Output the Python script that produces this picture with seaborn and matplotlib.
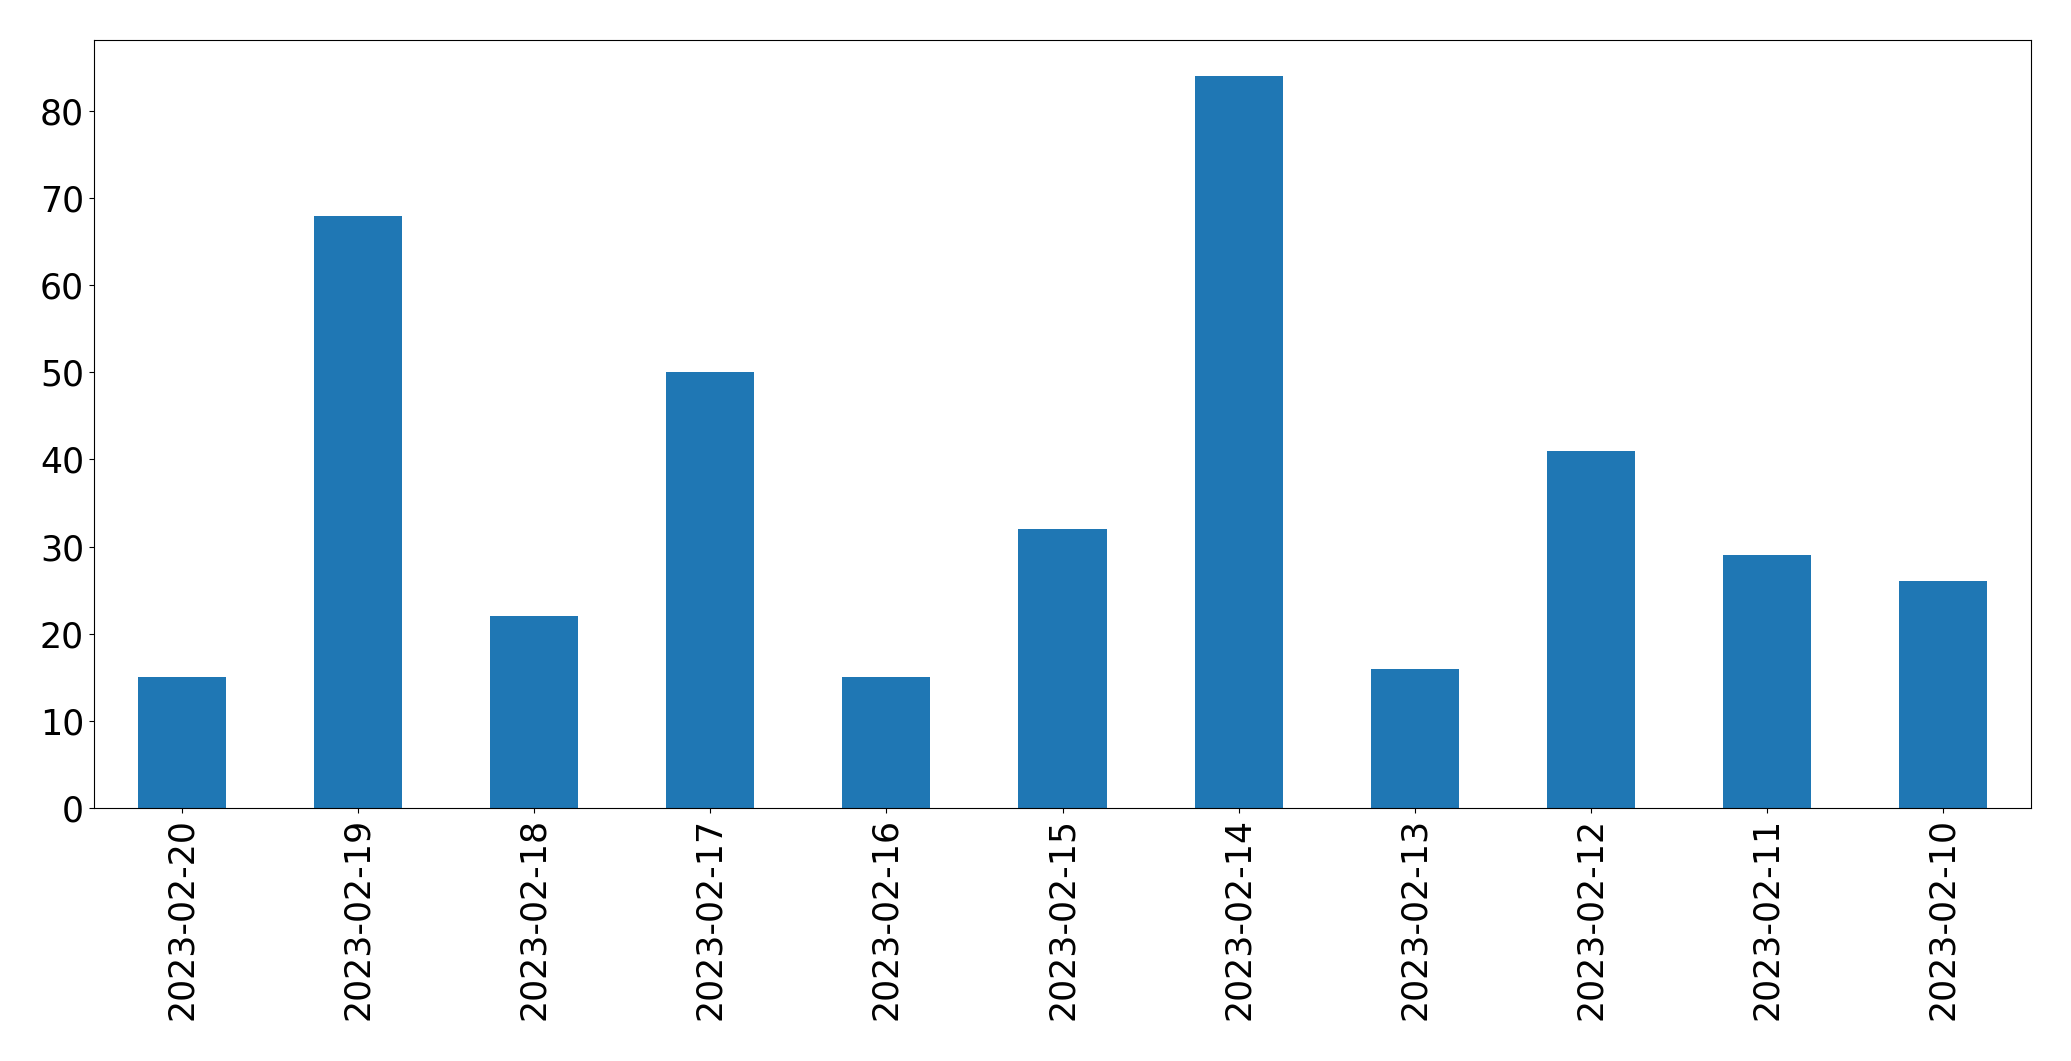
import matplotlib
matplotlib.use("Agg")
import matplotlib.pyplot as plt
import pandas as pd
import seaborn as sns

dates = ["2023-02-20", "2023-02-19", "2023-02-18", "2023-02-17", "2023-02-16",
         "2023-02-15", "2023-02-14", "2023-02-13", "2023-02-12", "2023-02-11",
         "2023-02-10"]
counts = [15, 68, 22, 50, 15, 32, 84, 16, 41, 29, 26]

df = pd.DataFrame({"date": dates, "count": counts})

sns.set_style("ticks")
plt.rcParams["font.family"] = ["DejaVu Sans"]

fig = plt.figure(figsize=(20.71, 10.61), dpi=100)
ax = fig.add_axes([0.0453, 0.2385, 0.9355, 0.7242])

sns.barplot(data=df, x="date", y="count", color="#1f77b4", saturation=1,
            width=0.5, linewidth=0, ax=ax)

ax.set_xlim(-0.5, len(dates) - 0.5)
ax.set_ylim(0, max(counts) * 1.05)
ax.set_xlabel("")
ax.set_ylabel("")
ax.tick_params(axis="x", rotation=90, labelsize=25, colors="black")
ax.tick_params(axis="y", labelsize=25, colors="black")
for s in ax.spines.values():
    s.set_visible(True)
    s.set_linewidth(0.8)
    s.set_color("black")

fig.savefig("out.png", dpi=100)
